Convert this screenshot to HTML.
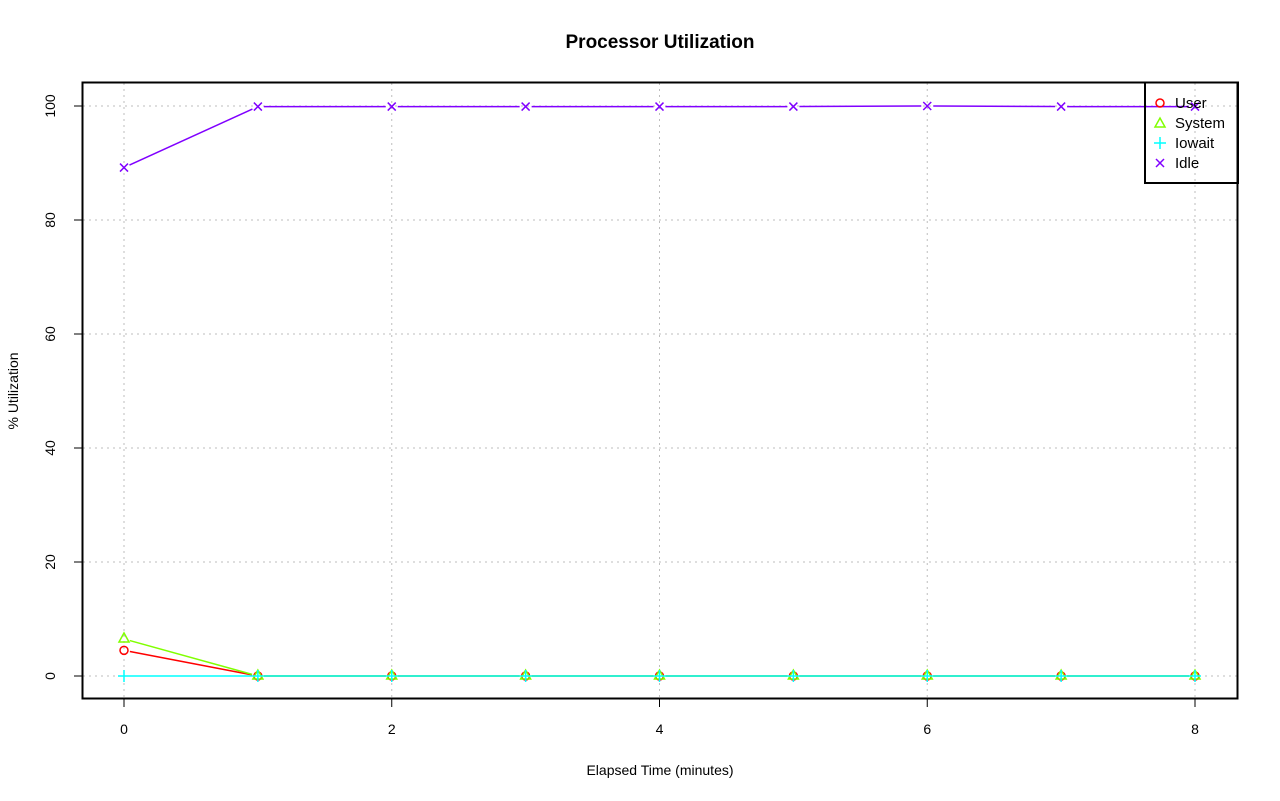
<!DOCTYPE html>
<html><head><style>body{margin:0;background:#fff}svg{display:block}text{font-family:"Liberation Sans",sans-serif}</style></head>
<body>
<svg id="s" width="1280" height="801" xmlns="http://www.w3.org/2000/svg">
<rect width="1280" height="801" fill="#fff"/>
<text x="660" y="48" font-size="19" font-weight="bold" text-anchor="middle">Processor Utilization</text>
<text x="660" y="775" font-size="14" text-anchor="middle">Elapsed Time (minutes)</text>
<text transform="translate(18,391) rotate(-90)" font-size="14" text-anchor="middle">% Utilization</text>
<g id="grid" stroke="#bdbdbd" stroke-dasharray="2,4" stroke-width="1"></g>
<g id="ticks" stroke="#000" font-size="14"></g>
<g id="data"></g>
<rect x="82.5" y="82.5" width="1155" height="616" fill="none" stroke="#000" stroke-width="2"/>
<rect x="1145" y="82.5" width="93" height="100.5" fill="none" stroke="#000" stroke-width="2"/>
<g font-size="15">
<circle cx="1160" cy="103" r="4" fill="none" stroke="#f00" stroke-width="1.5"/><text x="1175" y="108">User</text>
<path d="M1155,127 L1165,127 L1160,118 Z" fill="none" stroke="#80ff00" stroke-width="1.5"/><text x="1175" y="128">System</text>
<path d="M1154,143 H1166 M1160,137 V149" stroke="#00ffff" stroke-width="1.5"/><text x="1175" y="148">Iowait</text>
<path d="M1156,159 L1164,167 M1164,159 L1156,167" stroke="#8000ff" stroke-width="1.5"/><text x="1175" y="168">Idle</text>
</g>
</svg>
<script>
const NS="http://www.w3.org/2000/svg";
const X=i=>124+133.875*i, Y=v=>676-5.7*v;
function el(p,t,a,txt){const e=document.createElementNS(NS,t);for(const k in a)e.setAttribute(k,a[k]);if(txt!==undefined)e.textContent=txt;p.appendChild(e);return e;}
const g=document.getElementById('grid'),tk=document.getElementById('ticks'),d=document.getElementById('data');
for(let i=0;i<=8;i+=2){el(g,'line',{x1:X(i),x2:X(i),y1:83,y2:698});el(tk,'line',{x1:X(i),x2:X(i),y1:699,y2:707});el(tk,'text',{x:X(i),y:734,'text-anchor':'middle',stroke:'none'},i);}
for(let v=0;v<=100;v+=20){el(g,'line',{x1:83,x2:1237,y1:Y(v),y2:Y(v)});el(tk,'line',{x1:74,x2:82,y1:Y(v),y2:Y(v)});el(tk,'text',{transform:`translate(55,${Y(v)}) rotate(-90)`,'text-anchor':'middle',stroke:'none'},v);}
const series=[
 {c:'#f00',v:[4.5,0,0,0,0,0,0,0,0],m:'o'},
 {c:'#80ff00',v:[6.5,0,0,0,0,0,0,0,0],m:'t'},
 {c:'#00ffff',v:[0,0,0,0,0,0,0,0,0],m:'p'},
 {c:'#8000ff',v:[89.2,99.9,99.9,99.9,99.9,99.9,100,99.9,99.9],m:'x'}];
for(const s of series){
 for(let i=0;i<8;i++){const x1=X(i),y1=Y(s.v[i]),x2=X(i+1),y2=Y(s.v[i+1]);const L=Math.hypot(x2-x1,y2-y1),ux=(x2-x1)/L,uy=(y2-y1)/L,gp=6;
  el(d,'line',{x1:x1+ux*gp,y1:y1+uy*gp,x2:x2-ux*gp,y2:y2-uy*gp,stroke:s.c,'stroke-width':1.5});}
 s.v.forEach((v,i)=>{const x=X(i),y=Y(v),a={fill:'none',stroke:s.c,'stroke-width':1.5};
  if(s.m=='o')el(d,'circle',Object.assign({cx:x,cy:y,r:4},a));
  if(s.m=='t')el(d,'path',Object.assign({d:`M${x-5},${y+3} L${x+5},${y+3} L${x},${y-6} Z`},a));
  if(s.m=='p')el(d,'path',Object.assign({d:`M${x-6},${y} H${x+6} M${x},${y-6} V${y+6}`},a));
  if(s.m=='x')el(d,'path',Object.assign({d:`M${x-4},${y-4} L${x+4},${y+4} M${x+4},${y-4} L${x-4},${y+4}`},a));});
}
</script>
</body></html>
